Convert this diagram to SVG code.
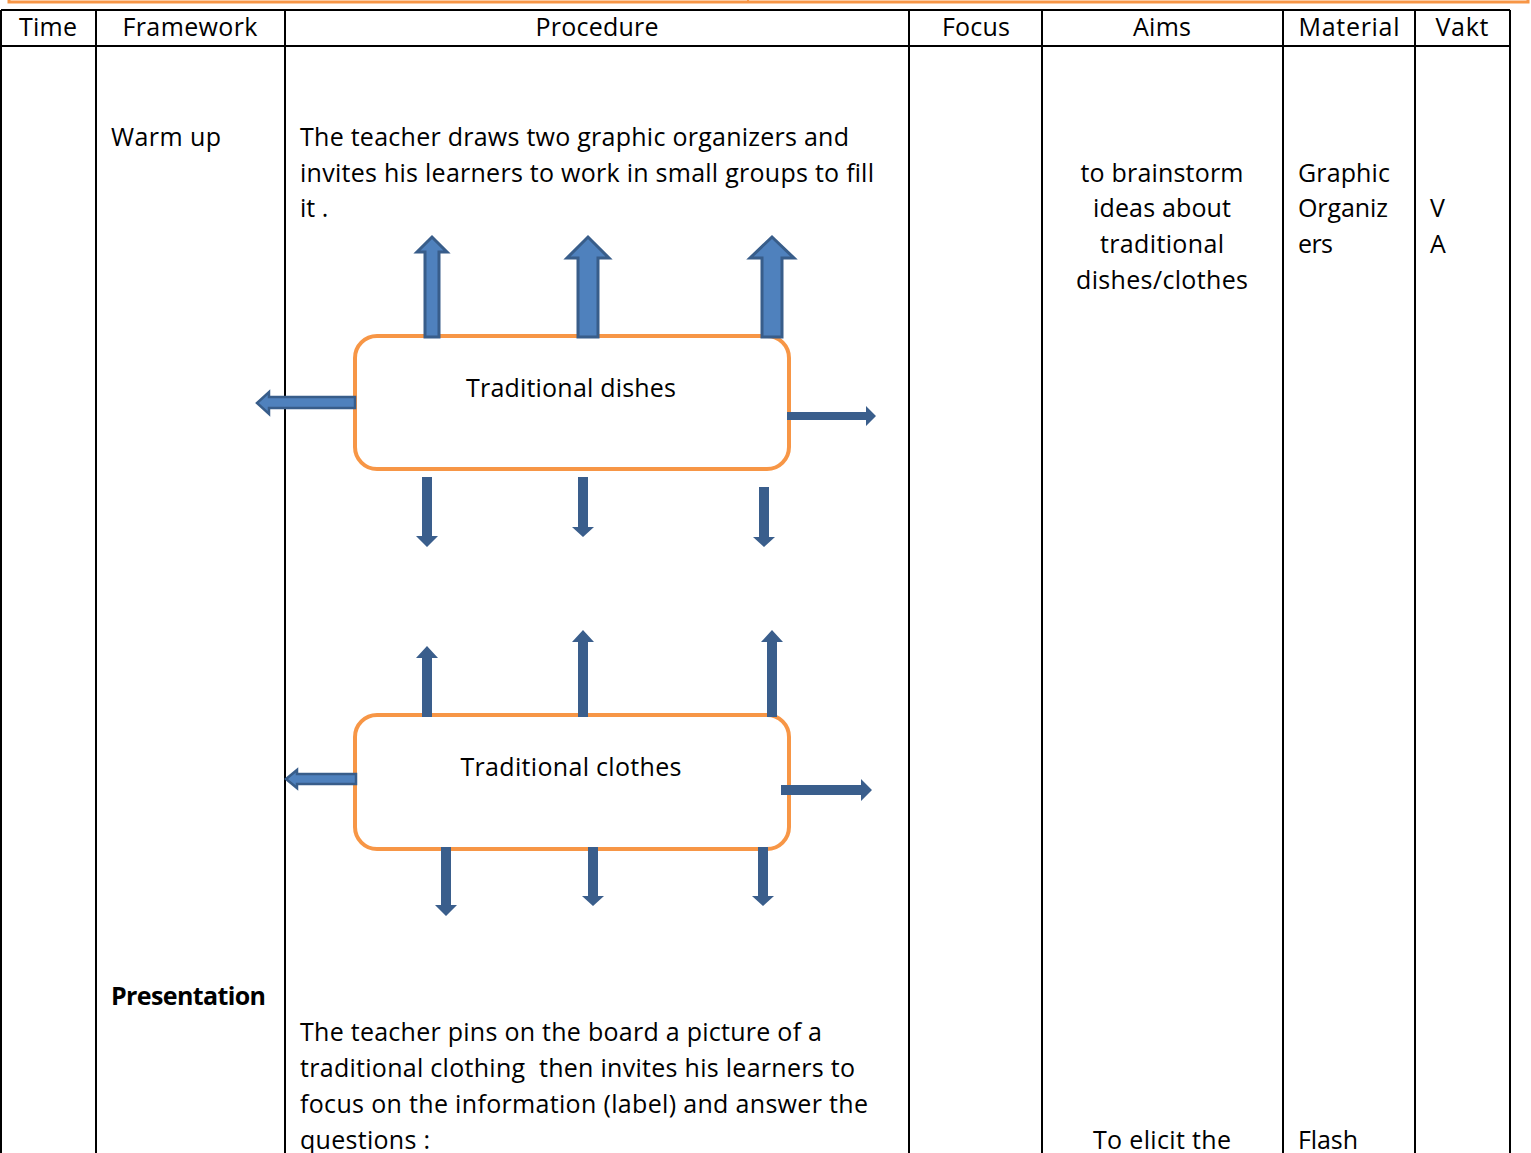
<svg xmlns="http://www.w3.org/2000/svg" width="1531" height="1153" viewBox="0 0 1531 1153">
<style>
text{font-family:"Open Sans","Noto Sans","Liberation Sans",sans-serif;font-size:25px;fill:#000}
.c{text-anchor:middle}
.b{font-weight:bold}
.grid{stroke:#000;stroke-width:2;fill:none}
.box{fill:#fff;stroke:#F79646;stroke-width:4}
.ua{fill:#4F81BD;stroke:#385D8A;stroke-width:3;stroke-linejoin:miter}
.da{fill:#3A5E8C;stroke:none}
</style>
<rect width="1531" height="1153" fill="#fff"/>
<g id="top-frame">
<path d="M9,0 V2 H1528 V0" fill="none" stroke="#F79646" stroke-width="3"/>
<path d="M748,0 V3" stroke="#F79646" stroke-width="2"/>
</g>
<g id="table">
<path class="grid" d="M1,10 H1510 M1,46 H1510 M1,10 V1153 M96,10 V1153 M285,10 V1153 M909,10 V1153 M1042,10 V1153 M1283,10 V1153 M1415,10 V1153 M1510,10 V1153"/>
<text class="c" x="48" y="36" textLength="58">Time</text>
<text class="c" x="190" y="36" textLength="135">Framework</text>
<text class="c" x="597" y="36" textLength="123">Procedure</text>
<text class="c" x="976" y="36" textLength="68">Focus</text>
<text class="c" x="1162" y="36" textLength="58">Aims</text>
<text class="c" x="1349" y="36" textLength="101">Material</text>
<text class="c" x="1462" y="36" textLength="53">Vakt</text>
</g>
<g id="warmup">
<text x="111" y="146" textLength="110">Warm up</text>
<text x="300" y="146" textLength="549">The teacher draws two graphic organizers and</text>
<text x="300" y="182" textLength="574">invites his learners to work in small groups to fill</text>
<text x="300" y="217">it .</text>
<text class="c" x="1162" y="182" textLength="163">to brainstorm</text>
<text class="c" x="1162" y="217" textLength="138">ideas about</text>
<text class="c" x="1162" y="253" textLength="124">traditional</text>
<text class="c" x="1162" y="289" textLength="172">dishes/clothes</text>
<text x="1298" y="182" textLength="92">Graphic</text>
<text x="1298" y="217" textLength="90">Organiz</text>
<text x="1298" y="253" textLength="35">ers</text>
<text x="1430" y="217">V</text>
<text x="1430" y="253">A</text>
</g>
<g id="node-dishes">
<rect class="box" x="355" y="336" width="434" height="133" rx="22"/>
<text class="c" x="571" y="397" textLength="210">Traditional dishes</text>
</g>
<g id="node-clothes">
<rect class="box" x="355" y="715" width="434" height="134" rx="22"/>
<text class="c" x="571" y="776" textLength="221">Traditional clothes</text>
</g>
<g id="connectors">
<polygon class="ua" points="425,337 425,252 417,252 432,237 447,252 439,252 439,337"/>
<polygon class="ua" points="578,337 578,258 567,258 588,237 609,258 598,258 598,337"/>
<polygon class="ua" points="762,337 762,258 750,258 772,237 794,258 782,258 782,337"/>
<polygon class="ua" style="stroke-width:2.5" points="355,397 269,397 269,392 257,403 269,414 269,408 355,408"/>
<polygon class="da" points="787,412 866,412 866,406 876,416 866,426 866,420 787,420"/>
<polygon class="da" points="422,477 432,477 432,536 438,536 427,547 416,536 422,536"/>
<polygon class="da" points="578,477 588,477 588,527 594,527 583,537 572,527 578,527"/>
<polygon class="da" points="759,487 769,487 769,537 775,537 764,547 753,537 759,537"/>
<polygon class="da" points="422,717 422,658 416,658 427,646 438,658 432,658 432,717"/>
<polygon class="da" points="578,717 578,642 572,642 583,630 594,642 588,642 588,717"/>
<polygon class="da" points="767,717 767,642 761,642 772,630 783,642 777,642 777,717"/>
<polygon class="ua" style="stroke-width:2.5" points="356,774 297,774 297,770 286,779 297,788 297,784 356,784"/>
<polygon class="da" points="781,785 861,785 861,779 872,790 861,801 861,795 781,795"/>
<polygon class="da" points="441,847 451,847 451,905 457,905 446,916 435,905 441,905"/>
<polygon class="da" points="588,847 598,847 598,896 604,896 593,906 582,896 588,896"/>
<polygon class="da" points="758,847 768,847 768,896 774,896 763,906 752,896 758,896"/>
</g>
<g id="presentation">
<text class="b" x="111" y="1005" textLength="155">Presentation</text>
<text x="300" y="1041" textLength="522">The teacher pins on the board a picture of a</text>
<text x="300" y="1077" textLength="555" xml:space="preserve">traditional clothing  then invites his learners to</text>
<text x="300" y="1113" textLength="568">focus on the information (label) and answer the</text>
<text x="300" y="1149" textLength="130">questions :</text>
<text class="c" x="1162" y="1149" textLength="138">To elicit the</text>
<text x="1298" y="1149" textLength="60">Flash</text>
</g>
</svg>
